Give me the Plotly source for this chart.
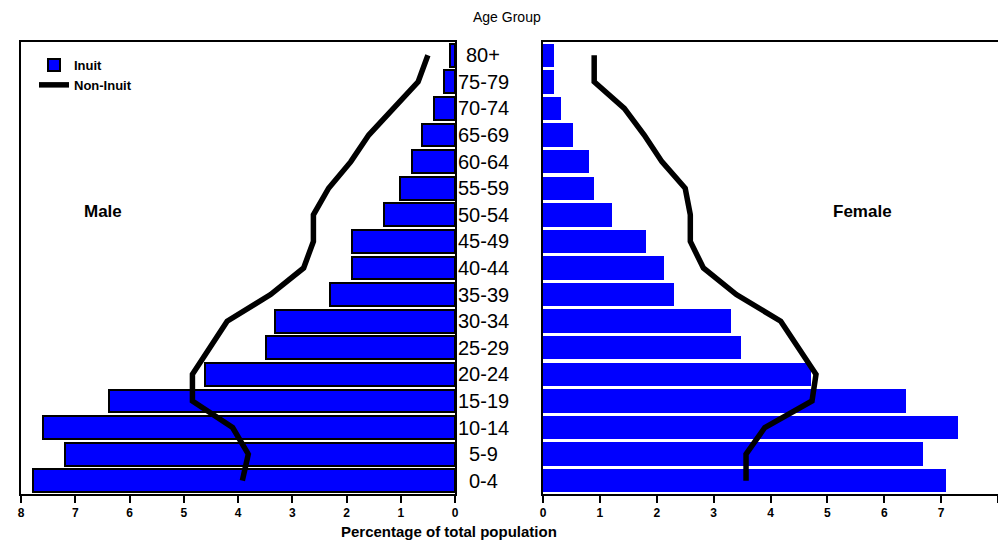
import plotly.graph_objects as go

ages = ["0-4", "5-9", "10-14", "15-19", "20-24", "25-29", "30-34", "35-39", "40-44",
        "45-49", "50-54", "55-59", "60-64", "65-69", "70-74", "75-79", "80+"]
male_inuit = [7.78, 7.19, 7.59, 6.38, 4.60, 3.49, 3.31, 2.31, 1.90,
              1.90, 1.31, 1.02, 0.79, 0.61, 0.39, 0.20, 0.09]
male_noninuit = [3.92, 3.81, 4.10, 4.84, 4.84, 4.53, 4.20, 3.40, 2.79,
                 2.61, 2.61, 2.33, 1.92, 1.59, 1.15, 0.68, 0.50]
female_inuit = [7.08, 6.69, 7.29, 6.38, 4.71, 3.48, 3.30, 2.30, 2.12,
                1.81, 1.22, 0.90, 0.80, 0.52, 0.31, 0.20, 0.20]
female_noninuit = [3.57, 3.57, 3.90, 4.73, 4.80, 4.48, 4.18, 3.40, 2.82,
                   2.59, 2.59, 2.50, 2.09, 1.78, 1.43, 0.90, 0.90]
tick_vals = [0, 1, 2, 3, 4, 5, 6, 7, 8]

W, H = 998, 544
BLUE = "#0000FF"
FONT = "Liberation Sans, Arial, sans-serif"

def px(x):
    return x / W

def py(y):
    return 1 - y / H

fig = go.Figure()

fig.add_trace(go.Bar(x=male_inuit, y=ages, orientation="h", name="Inuit",
                     marker=dict(color=BLUE, line=dict(color="black", width=2)),
                     width=0.86, xaxis="x", yaxis="y", legendrank=1))
fig.add_trace(go.Scatter(x=male_noninuit, y=ages, mode="lines", name="Non-Inuit",
                         line=dict(color="black", width=5.5), xaxis="x", yaxis="y",
                         legendrank=2))
fig.add_trace(go.Bar(x=female_inuit, y=ages, orientation="h", name="Inuit",
                     marker=dict(color=BLUE, line=dict(width=0)),
                     width=0.88, xaxis="x2", yaxis="y2", showlegend=False))
fig.add_trace(go.Scatter(x=female_noninuit, y=ages, mode="lines", name="Non-Inuit",
                         line=dict(color="black", width=5.5), xaxis="x2", yaxis="y2",
                         showlegend=False))

tickfont = dict(family=FONT, size=12, color="black", weight="bold")
ydom = [py(494), py(42)]

fig.update_layout(
    template="none",
    width=W, height=H, autosize=False,
    margin=dict(l=0, r=0, t=0, b=0, autoexpand=False),
    paper_bgcolor="white", plot_bgcolor="white",
    bargap=0,
    xaxis=dict(domain=[px(21), px(455)], range=[8, 0], anchor="y", automargin=False,
               tickvals=tick_vals, ticks="outside", ticklen=7, tickwidth=2,
               tickcolor="black", showline=True, linecolor="black", linewidth=2,
               mirror=True, showgrid=False, zeroline=False, tickfont=tickfont),
    yaxis=dict(domain=ydom, anchor="x", side="right", type="category", automargin=False,
               categoryorder="array", categoryarray=ages, range=[-0.5, 16.5],
               showticklabels=False, ticks="", showline=True, linecolor="black",
               linewidth=2, mirror=True, showgrid=False, zeroline=False),
    xaxis2=dict(domain=[px(543), 1.0], range=[0, 8], anchor="y2", automargin=False,
                tickvals=tick_vals, ticks="outside", ticklen=7, tickwidth=2,
                tickcolor="black", showline=True, linecolor="black", linewidth=2,
                mirror=True, showgrid=False, zeroline=False, tickfont=tickfont),
    yaxis2=dict(domain=ydom, anchor="x2", side="left", type="category", automargin=False,
                categoryorder="array", categoryarray=ages, range=[-0.5, 16.5],
                showticklabels=False, ticks="", showline=True, linecolor="black",
                linewidth=2, mirror=False, showgrid=False, zeroline=False),
    legend=dict(x=px(34), y=py(50), xanchor="left", yanchor="top",
                bgcolor="rgba(0,0,0,0)", borderwidth=0, tracegroupgap=0,
                font=dict(family=FONT, size=13, color="black", weight="bold"),
                itemwidth=30, traceorder="normal"),
    showlegend=True,
)

def ann(text, x, y, size, bold=False):
    f = dict(family=FONT, size=size, color="black")
    if bold:
        f["weight"] = "bold"
    return dict(text=text, x=px(x), y=py(y), xref="paper", yref="paper",
                xanchor="center", yanchor="middle", showarrow=False, font=f)

annotations = [
    ann("Age Group", 507, 17, 14),
    ann("Percentage of total population", 449, 531, 15, True),
    ann("Male", 103, 212, 17, True),
    ann("Female", 862, 212, 17, True),
]
for i, a in enumerate(ages):
    annotations.append(dict(text=a, x=px(483), y=i, xref="paper", yref="y",
                            xanchor="center", yanchor="middle", showarrow=False,
                            font=dict(family=FONT, size=20, color="black")))
fig.update_layout(annotations=annotations)

fig.write_html("out.html", config={"displayModeBar": False},
               post_script="document.body.style.margin='0';document.body.style.overflow='hidden';")
